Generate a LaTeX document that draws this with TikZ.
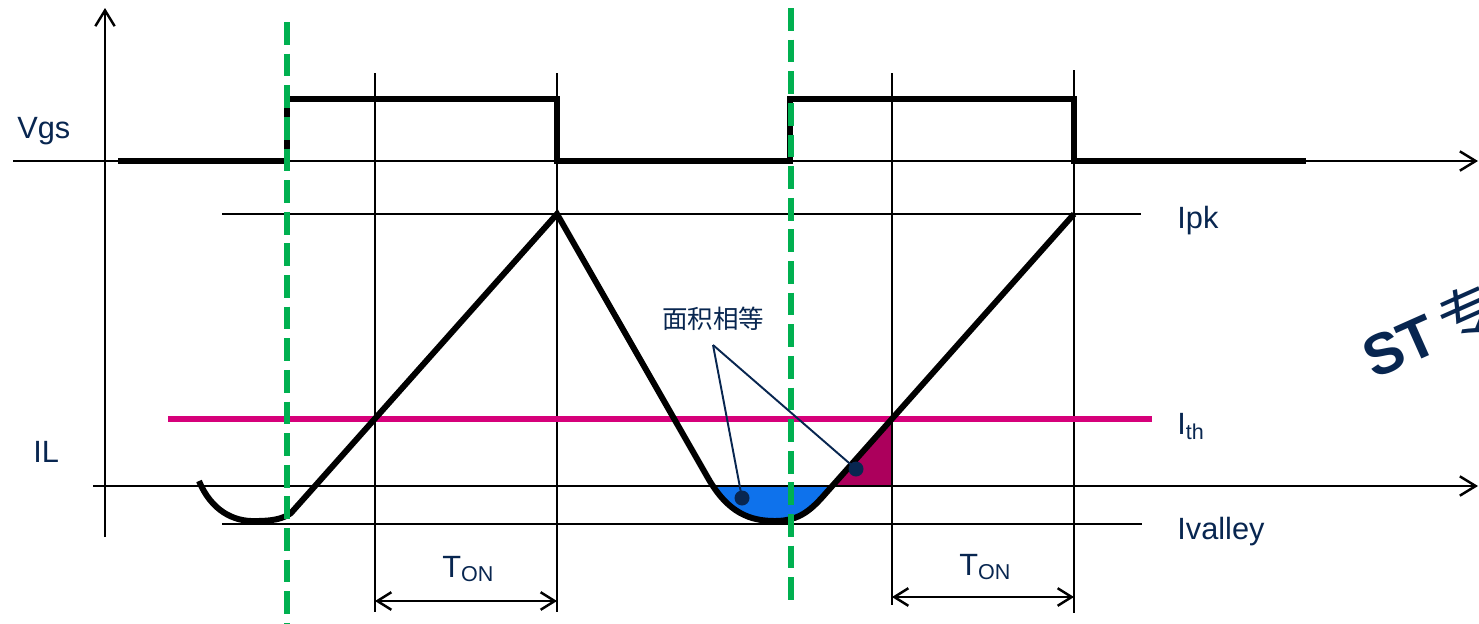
\documentclass[tikz,border=0pt]{standalone}
\usepackage{fontspec}
\setmainfont{Liberation Sans}
\newfontfamily\cjkfont{Noto Sans CJK SC}
\usepackage{xcolor}
\usepackage{tikz}
\usetikzlibrary{arrows.meta}
\definecolor{stnavy}{RGB}{8,38,80}
\definecolor{syncgreen}{RGB}{0,176,80}
\definecolor{thpink}{RGB}{214,0,122}
\definecolor{areablue}{RGB}{14,114,236}
\definecolor{areared}{RGB}{172,0,92}

\begin{document}
\begin{tikzpicture}[x=0.02cm, y=-0.02cm,
    axis/.style={line width=1.4pt, -{Straight Barb[length=9pt, width=11pt, line width=1.4pt]}},
    guide/.style={line width=1.4pt},
    wave/.style={line width=3.4pt, miter limit=4},
    sync/.style={draw=syncgreen, line width=3pt, dash pattern=on 13pt off 5pt},
    dim/.style={line width=1.4pt, {Straight Barb[length=8pt, width=10pt, line width=1.4pt]}-{Straight Barb[length=8pt, width=10pt, line width=1.4pt]}},
    tag/.style={font=\fontsize{17.5}{20}\selectfont, text=stnavy, anchor=base west, inner sep=0pt},
    dotmark/.style={circle, fill=stnavy, minimum size=0.3cm, inner sep=0pt},
    leader/.style={draw=stnavy, line width=1.1pt}
]
\useasboundingbox (0,0) rectangle (1479,623);
% equal areas
\begin{scope}
  \clip (690,486) rectangle (850,540);
  \fill[areablue] (708,478) .. controls (728,513) and (750,521) .. (775,521) .. controls (800,521) and (812,509) .. (826,493) -- (840,478) -- cycle;
\end{scope}
\fill[areared] (832,486) -- (892,419) -- (892,486) -- cycle;
% axes
\draw[axis] (105,537) -- (105,8);
\draw[axis] (13,161) -- (1478,161);
\draw[axis] (93,486) -- (1478,486);
% guide lines
\draw[guide] (375,73) -- (375,612);
\draw[guide] (557,73) -- (557,612);
\draw[guide] (892,73) -- (892,605);
\draw[guide] (1074,70) -- (1074,613);
\draw[guide] (222,214) -- (1141,214);
\draw[guide] (222,524) -- (1142,524);
\draw[draw=thpink, line width=3.2pt] (168,419) -- (1152,419);
% waveforms
\draw[wave] (118,161) -- (287,161) -- (287,99) -- (557,99) -- (557,161) -- (790,161) -- (790,99) -- (1074,99) -- (1074,161) -- (1306,161);
\draw[wave] (199,481) .. controls (211,510) and (233,522) .. (256,521) .. controls (272,521) and (283,519) .. (291,513) -- (557,214) -- (708,478) .. controls (728,513) and (750,521) .. (775,521) .. controls (800,521) and (812,509) .. (826,493) -- (1074,214);
% sync lines
\draw[sync] (287,22) -- (287,623);
\draw[sync] (791,8) -- (791,607);
% labels
\node[tag] (vgs) at (17,138) {Vgs};
\node[tag] (il) at (33,462) {IL};
\node[tag] (ipk) at (1177,228) {Ipk};
\node[tag] (ith) at (1177,434) {I\textsubscript{th}};
\node[tag] (ivalley) at (1177,539) {Ivalley};
\node[tag] (ton1) at (442,577) {T\textsubscript{ON}};
\node[tag] (ton2) at (959,575) {T\textsubscript{ON}};
% T_ON spans
\coordinate (ton1a) at (375,601);
\coordinate (ton1b) at (557,601);
\coordinate (ton2a) at (892,597);
\coordinate (ton2b) at (1074,597);
\draw[dim] (ton1a) -- (ton1b);
\draw[dim] (ton2a) -- (ton2b);
% equal-area note
\node[font=\cjkfont\fontsize{14.5}{17}\selectfont, text=stnavy, inner sep=0pt] (note) at (713,319) {面积相等};
\coordinate (lead) at (713,345);
\node[dotmark] (dotblue) at (742,498) {};
\node[dotmark] (dotred) at (856,469) {};
\draw[leader] (lead) -- (dotblue.center);
\draw[leader] (lead) -- (dotred.center);
% watermark
\node[font=\fontsize{33}{38}\selectfont\bfseries, text=stnavy, anchor=base west, inner sep=0pt, rotate=24] (wm) at (1374,380) {ST\,{\cjkfont\mdseries 专}};
\end{tikzpicture}
\end{document}
